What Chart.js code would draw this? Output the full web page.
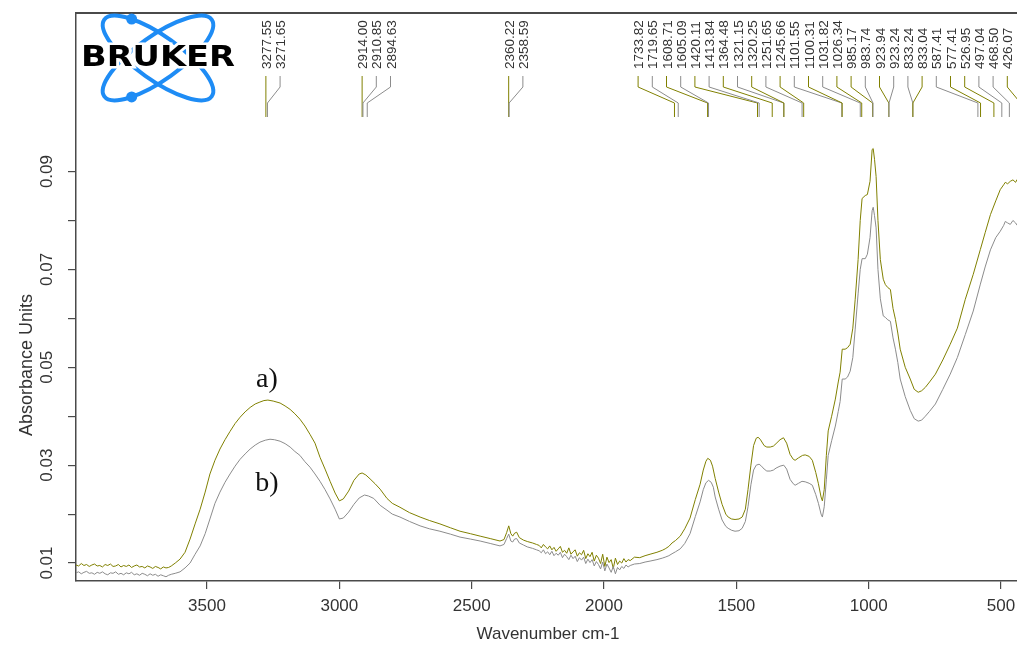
<!DOCTYPE html>
<html>
<head>
<meta charset="utf-8">
<script src="https://cdn.jsdelivr.net/npm/chart.js@4.4.0/dist/chart.umd.min.js"></script>
<style>
  html, body { margin: 0; padding: 0; background: #fff; overflow: hidden; }
  #wrap { width: 1030px; height: 647px; position: relative; }
</style>
</head>
<body>
<div id="wrap"><canvas id="spectrum"></canvas></div>
<script>
// spectrum a) (olive) as [wavenumber, absorbance]
const seriesA = [
  [3995, .0096], [3985, .0094], [3975, .0099], [3965, .0095], [3955, .0097], [3945, .0093], [3935, .0096],
  [3925, .0098], [3915, .0094], [3905, .0095], [3895, .0092], [3885, .0097], [3875, .0095], [3865, .0098],
  [3855, .0093], [3845, .0094], [3835, .0097], [3825, .0092], [3815, .0095], [3805, .0093], [3795, .0096],
  [3785, .0091], [3775, .0094], [3765, .0096], [3755, .0092], [3745, .0093], [3735, .0090], [3725, .0094],
  [3715, .0092], [3705, .0089], [3695, .0093], [3685, .0091], [3675, .0088], [3665, .0092], [3655, .0090],
  [3645, .0091], [3635, .0094], [3620, .0100], [3602, .0108], [3583, .0122], [3564, .0149], [3545, .0180],
  [3526, .0210], [3507, .0245], [3489, .0282], [3470, .0310], [3451, .0333], [3432, .0352], [3413, .0369],
  [3394, .0385], [3375, .0398], [3356, .0409], [3337, .0418], [3318, .0425], [3300, .0429], [3285, .0432],
  [3270, .0433], [3250, .0431], [3224, .0427], [3205, .0421], [3186, .0414], [3168, .0405], [3149, .0394],
  [3130, .0380], [3111, .0363], [3092, .0345], [3073, .0316], [3054, .0292], [3035, .0267], [3016, .0243],
  [3000, .0227], [2985, .0231], [2965, .0247], [2945, .0269], [2925, .0282], [2914, .0284], [2900, .0280],
  [2884, .0272], [2865, .0262], [2846, .0251], [2820, .0232], [2800, .0222], [2771, .0214], [2735, .0203],
  [2695, .0194], [2660, .0187], [2620, .0180], [2580, .0172], [2544, .0165], [2505, .0160], [2468, .0155],
  [2430, .0150], [2393, .0145], [2378, .0148], [2368, .0162], [2360, .0176], [2352, .0160], [2345, .0155],
  [2338, .0161], [2330, .0163], [2320, .0152], [2305, .0147], [2290, .0144], [2270, .0141], [2255, .0138],
  [2245, .0136], [2237, .0131], [2229, .0138], [2221, .0133], [2213, .0129], [2205, .0135], [2197, .0127],
  [2189, .0132], [2181, .0124], [2173, .0129], [2165, .0134], [2157, .0122], [2149, .0126], [2141, .0120],
  [2133, .0131], [2125, .0118], [2117, .0123], [2109, .0127], [2101, .0114], [2093, .0121], [2085, .0117],
  [2077, .0126], [2069, .0109], [2061, .0119], [2053, .0113], [2045, .0122], [2037, .0104], [2029, .0116],
  [2021, .0110], [2013, .0099], [2005, .0118], [1997, .0093], [1989, .0112], [1981, .0101], [1973, .0107],
  [1965, .0089], [1957, .0110], [1949, .0097], [1941, .0104], [1933, .0100], [1925, .0109], [1917, .0102],
  [1909, .0107], [1901, .0105], [1885, .0112], [1865, .0111], [1845, .0115], [1826, .0118], [1800, .0122],
  [1780, .0126], [1769, .0129], [1755, .0134], [1743, .0141], [1730, .0146], [1712, .0155], [1695, .0170],
  [1675, .0192], [1655, .0230], [1637, .0261], [1625, .0290], [1615, .0308], [1608, .0314], [1598, .0310],
  [1590, .0298], [1580, .0273], [1567, .0245], [1554, .0220], [1540, .0200], [1531, .0194], [1518, .0190],
  [1505, .0189], [1490, .0190], [1478, .0194], [1466, .0210], [1456, .0250], [1445, .0300], [1435, .0340],
  [1425, .0355], [1418, .0357], [1410, .0353], [1395, .0340], [1385, .0337], [1372, .0337], [1360, .0339],
  [1350, .0344], [1335, .0352], [1322, .0356], [1310, .0345], [1297, .0322], [1285, .0312], [1278, .0310],
  [1265, .0315], [1250, .0320], [1240, .0321], [1225, .0318], [1213, .0310], [1200, .0285], [1190, .0262],
  [1180, .0235], [1175, .0227], [1168, .0250], [1160, .0320], [1153, .0370], [1140, .0400], [1126, .0435],
  [1115, .0470], [1108, .0490], [1100, .0537], [1089, .0537], [1080, .0540], [1070, .0547], [1060, .0580],
  [1051, .0639], [1040, .0720], [1032, .0800], [1025, .0845], [1013, .0851], [1005, .0853], [995, .0880],
  [987, .0945], [983, .0947], [978, .0925], [972, .0890], [965, .0800], [956, .0720], [945, .0680],
  [937, .0669], [928, .0663], [918, .0659], [908, .0620], [899, .0598], [890, .0570], [881, .0537],
  [862, .0500], [843, .0476], [828, .0455], [813, .0449], [800, .0452], [786, .0459], [770, .0470],
  [748, .0486], [720, .0515], [692, .0547], [665, .0580], [635, .0639], [605, .0690], [578, .0741],
  [560, .0775], [540, .0812], [520, .0840], [503, .0863], [490, .0873], [484, .0878], [475, .0875],
  [465, .0880], [455, .0883], [445, .0878], [439, .0884], [420, .0880], [400, .0885]
];

// spectrum b) (grey)
const seriesB = [
  [3995, .0080], [3985, .0082], [3975, .0078], [3965, .0081], [3955, .0083], [3945, .0079], [3935, .0080],
  [3925, .0077], [3915, .0081], [3905, .0079], [3895, .0082], [3885, .0078], [3875, .0076], [3865, .0080],
  [3855, .0079], [3845, .0082], [3835, .0077], [3825, .0079], [3815, .0076], [3805, .0080], [3795, .0078],
  [3785, .0081], [3775, .0076], [3765, .0078], [3755, .0075], [3745, .0079], [3735, .0077], [3725, .0074],
  [3715, .0078], [3705, .0075], [3695, .0077], [3685, .0073], [3675, .0076], [3665, .0074], [3655, .0072],
  [3645, .0075], [3635, .0077], [3620, .0079], [3602, .0082], [3583, .0090], [3564, .0100], [3545, .0118],
  [3526, .0135], [3507, .0160], [3489, .0190], [3470, .0222], [3451, .0245], [3432, .0265], [3413, .0282],
  [3394, .0298], [3375, .0312], [3356, .0323], [3337, .0333], [3318, .0341], [3300, .0347], [3280, .0351],
  [3262, .0353], [3245, .0352], [3224, .0349], [3205, .0344], [3186, .0337], [3168, .0328], [3149, .0320],
  [3130, .0307], [3111, .0296], [3092, .0282], [3073, .0267], [3054, .0250], [3035, .0231], [3016, .0210],
  [3000, .0190], [2985, .0192], [2965, .0204], [2945, .0220], [2925, .0233], [2905, .0239], [2890, .0237],
  [2870, .0232], [2846, .0218], [2820, .0208], [2800, .0200], [2771, .0194], [2735, .0185], [2695, .0176],
  [2660, .0170], [2620, .0165], [2580, .0159], [2544, .0153], [2505, .0149], [2468, .0145], [2430, .0140],
  [2393, .0135], [2378, .0138], [2368, .0150], [2360, .0159], [2352, .0145], [2345, .0143], [2338, .0149],
  [2330, .0150], [2320, .0141], [2305, .0137], [2290, .0133], [2270, .0130], [2255, .0127], [2245, .0125],
  [2237, .0121], [2229, .0127], [2221, .0119], [2213, .0123], [2205, .0117], [2197, .0124], [2189, .0115],
  [2181, .0120], [2173, .0116], [2165, .0122], [2157, .0111], [2149, .0118], [2141, .0113], [2133, .0107],
  [2125, .0116], [2117, .0109], [2109, .0114], [2101, .0103], [2093, .0111], [2085, .0106], [2077, .0112],
  [2069, .0099], [2061, .0108], [2053, .0101], [2045, .0107], [2037, .0094], [2029, .0103], [2021, .0097],
  [2013, .0088], [2005, .0102], [1997, .0084], [1989, .0098], [1981, .0090], [1973, .0081], [1965, .0093],
  [1957, .0078], [1949, .0091], [1941, .0086], [1933, .0093], [1925, .0089], [1917, .0096], [1909, .0092],
  [1901, .0095], [1885, .0098], [1865, .0099], [1845, .0102], [1826, .0104], [1800, .0107], [1780, .0110],
  [1769, .0112], [1755, .0115], [1743, .0119], [1730, .0123], [1712, .0129], [1695, .0140], [1675, .0160],
  [1655, .0195], [1637, .0225], [1625, .0250], [1615, .0264], [1605, .0269], [1595, .0265], [1587, .0255],
  [1580, .0235], [1567, .0210], [1554, .0188], [1540, .0175], [1531, .0171], [1518, .0167], [1505, .0165],
  [1490, .0166], [1478, .0171], [1466, .0185], [1456, .0215], [1445, .0260], [1435, .0290], [1425, .0300],
  [1414, .0302], [1405, .0298], [1395, .0292], [1385, .0288], [1372, .0288], [1360, .0290], [1350, .0294],
  [1335, .0298], [1321, .0300], [1310, .0292], [1297, .0271], [1285, .0262], [1278, .0259], [1265, .0263],
  [1252, .0267], [1240, .0266], [1225, .0263], [1213, .0259], [1200, .0240], [1190, .0222], [1180, .0200],
  [1175, .0194], [1168, .0215], [1160, .0270], [1153, .0320], [1140, .0350], [1126, .0380], [1115, .0410],
  [1108, .0430], [1100, .0476], [1089, .0476], [1080, .0480], [1070, .0492], [1060, .0520], [1051, .0578],
  [1040, .0650], [1032, .0700], [1025, .0722], [1013, .0722], [1005, .0731], [995, .0765], [987, .0820],
  [983, .0827], [978, .0810], [972, .0785], [965, .0700], [956, .0640], [945, .0605], [937, .0602],
  [928, .0597], [918, .0594], [908, .0560], [899, .0537], [890, .0510], [881, .0476], [862, .0440],
  [843, .0412], [828, .0395], [813, .0390], [800, .0392], [786, .0400], [770, .0410], [748, .0425],
  [720, .0455], [692, .0486], [665, .0520], [635, .0567], [605, .0615], [578, .0670], [560, .0705],
  [540, .0740], [520, .0765], [503, .0778], [490, .0790], [484, .0798], [475, .0795], [465, .0792],
  [455, .0800], [445, .0795], [439, .0790], [420, .0788], [400, .0792]
];

// peak picks
const peaksA = [3277.55, 2914.00, 2360.22, 1733.82, 1608.71, 1420.11, 1364.48, 1320.25, 1245.66,
  1100.31, 1026.34, 985.17, 923.94, 833.04, 577.41, 526.95, 426.07];
const peaksB = [3271.65, 2910.85, 2894.63, 2358.59, 1719.65, 1605.09, 1413.84, 1321.15, 1251.65,
  1101.55, 1031.82, 983.74, 923.24, 833.24, 587.41, 497.04, 468.50, 420.85];

const xTickValues = [3500, 3000, 2500, 2000, 1500, 1000, 500];
const yTickValues = [0.01, 0.02, 0.03, 0.04, 0.05, 0.06, 0.07, 0.08, 0.09];
const yTickLabels = ['0.01', '0.03', '0.05', '0.07', '0.09'];

const olive = '#808000';
const grey = '#8c8c8c';
const axisColor = '#4a4a4a';
const textColor = '#333';
const sans = '"Liberation Sans", Arial, sans-serif';

const decor = {
  id: 'decor',
  afterDraw(chart) {
    const ctx = chart.ctx;
    const area = chart.chartArea;
    const xs = chart.scales.x, ys = chart.scales.y;
    ctx.save();

    // top frame
    ctx.strokeStyle = axisColor;
    ctx.lineWidth = 2;
    ctx.beginPath();
    ctx.moveTo(area.left, area.top);
    ctx.lineTo(area.right, area.top);
    ctx.stroke();

    // y tick labels, rotated
    ctx.fillStyle = textColor;
    ctx.font = '17px ' + sans;
    ctx.textAlign = 'center';
    ctx.textBaseline = 'alphabetic';
    yTickLabels.forEach(t => {
      const y = ys.getPixelForValue(parseFloat(t));
      ctx.save();
      ctx.translate(area.left - 30, y);
      ctx.rotate(-Math.PI / 2);
      ctx.fillText(t, 0, 6);
      ctx.restore();
    });

    // axis titles
    ctx.font = '18px ' + sans;
    ctx.save();
    ctx.translate(27, 365);
    ctx.rotate(-Math.PI / 2);
    ctx.textBaseline = 'middle';
    ctx.fillText('Absorbance Units', 0, 0);
    ctx.restore();
    ctx.font = '17px ' + sans;
    ctx.textBaseline = 'middle';
    ctx.fillText('Wavenumber cm-1', 548, 634);

    // a) b) tags
    ctx.font = '28px "Liberation Serif", "Times New Roman", serif';
    ctx.fillStyle = '#111';
    ctx.fillText('a)', 267, 380);
    ctx.fillText('b)', 267, 484);

    // peak labels with leader lines
    const peaks = peaksA.map(w => ({ w, c: olive })).concat(peaksB.map(w => ({ w, c: grey })));
    peaks.sort((p, q) => q.w - p.w);
    const gap = 14.2;
    const pos = peaks.map(p => xs.getPixelForValue(p.w));
    const lab = pos.slice();
    for (let i = 1; i < lab.length; i++) lab[i] = Math.max(lab[i], lab[i - 1] + gap);
    const last = lab.length - 1;
    lab[last] = Math.min(lab[last], area.right - 6);
    for (let i = last - 1; i >= 0; i--) lab[i] = Math.min(lab[i], lab[i + 1] - gap);

    const top = area.top;
    ctx.lineWidth = 1;
    peaks.forEach((p, i) => {
      ctx.strokeStyle = p.c;
      ctx.beginPath();
      ctx.moveTo(lab[i], top + 63);
      ctx.lineTo(lab[i], top + 74);
      ctx.lineTo(pos[i], top + 90);
      ctx.lineTo(pos[i], top + 104);
      ctx.stroke();
    });
    ctx.fillStyle = textColor;
    ctx.font = '13.5px ' + sans;
    ctx.textAlign = 'left';
    ctx.textBaseline = 'alphabetic';
    peaks.forEach((p, i) => {
      ctx.save();
      ctx.translate(lab[i], top + 56);
      ctx.rotate(-Math.PI / 2);
      ctx.fillText(p.w.toFixed(2), 0, 5);
      ctx.restore();
    });

    // Bruker logo
    const cx = 158, cy = 58;
    ctx.strokeStyle = '#1e8cf5';
    ctx.fillStyle = '#1e8cf5';
    ctx.lineWidth = 4;
    [0.62, -0.62].forEach(th => {
      ctx.beginPath();
      ctx.ellipse(cx, cy, 66, 22, th, 0, Math.PI * 2);
      ctx.stroke();
    });
    [0.62, -0.62].forEach(th => {
      const t = th > 0 ? Math.PI + 0.84 : Math.PI - 0.84;
      const px = cx + 66 * Math.cos(t) * Math.cos(th) - 22 * Math.sin(t) * Math.sin(th);
      const py = cy + 66 * Math.cos(t) * Math.sin(th) + 22 * Math.sin(t) * Math.cos(th);
      ctx.beginPath();
      ctx.arc(px, py, 5.5, 0, Math.PI * 2);
      ctx.fill();
    });
    ctx.font = 'bold 28px "DejaVu Sans", sans-serif';
    ctx.textAlign = 'center';
    ctx.textBaseline = 'middle';
    const w = ctx.measureText('BRUKER').width;
    ctx.save();
    ctx.translate(cx, cy + 1);
    ctx.scale(154 / w, 1);
    ctx.strokeStyle = '#fff';
    ctx.lineWidth = 5;
    ctx.strokeText('BRUKER', 0, 0);
    ctx.fillStyle = '#000';
    ctx.fillText('BRUKER', 0, 0);
    ctx.restore();

    ctx.restore();
  }
};

new Chart(document.getElementById('spectrum').getContext('2d'), {
  type: 'line',
  data: {
    datasets: [
      {
        label: 'b)',
        data: seriesB.map(p => ({ x: p[0], y: p[1] })),
        borderColor: grey,
        borderWidth: 1,
        pointRadius: 0,
        tension: 0
      },
      {
        label: 'a)',
        data: seriesA.map(p => ({ x: p[0], y: p[1] })),
        borderColor: olive,
        borderWidth: 1,
        pointRadius: 0,
        tension: 0
      }
    ]
  },
  options: {
    responsive: true,
    maintainAspectRatio: false,
    animation: false,
    layout: { padding: { left: 0, top: 13, right: 2.5, bottom: 0 } },
    plugins: {
      legend: { display: false },
      tooltip: { enabled: false }
    },
    scales: {
      x: {
        type: 'linear',
        reverse: true,
        min: 400,
        max: 3995,
        afterFit: s => { s.height = 66; },
        afterBuildTicks: s => { s.ticks = xTickValues.map(v => ({ value: v })); },
        grid: { drawOnChartArea: false, tickLength: 8, color: axisColor, lineWidth: 1.2 },
        border: { color: axisColor, width: 1.5 },
        ticks: {
          autoSkip: false,
          maxRotation: 0,
          minRotation: 0,
          padding: 7,
          color: textColor,
          font: { family: sans, size: 17 },
          callback: v => String(v)
        }
      },
      y: {
        min: 0.00633,
        max: 0.1224,
        afterFit: s => { s.width = 76; },
        afterBuildTicks: s => { s.ticks = yTickValues.map(v => ({ value: v })); },
        grid: { drawOnChartArea: false, tickLength: 8, color: axisColor, lineWidth: 1.2 },
        border: { color: axisColor, width: 1.5 },
        ticks: { display: false }
      }
    }
  },
  plugins: [decor]
});
</script>
</body>
</html>
